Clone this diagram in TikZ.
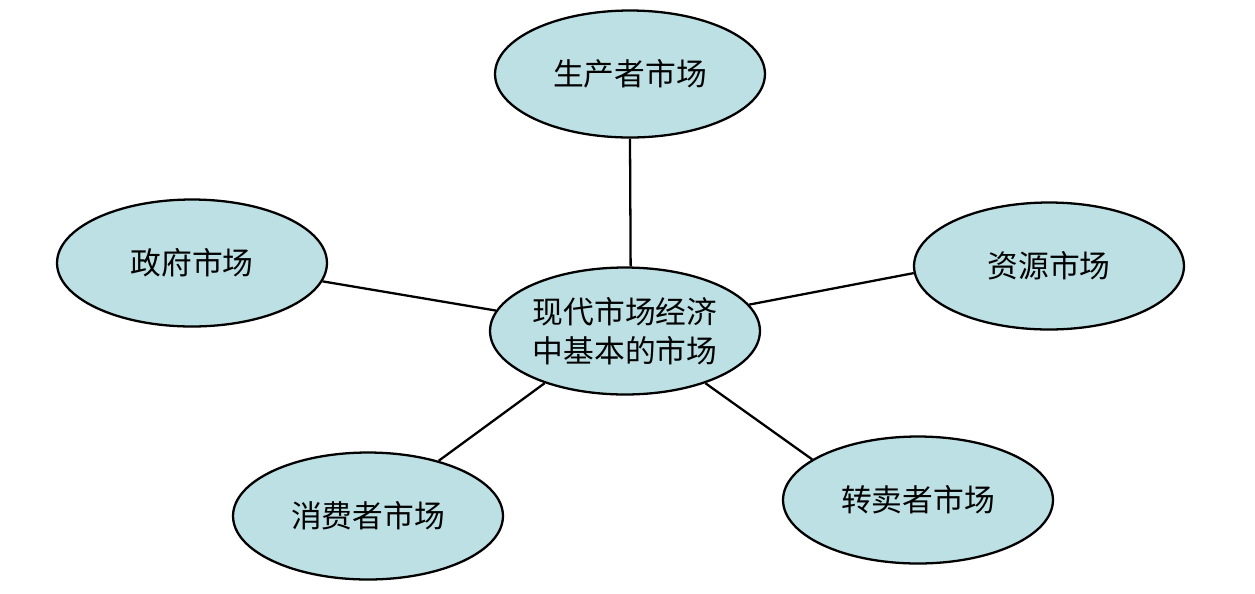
\documentclass[tikz,border=0pt]{standalone}
\usepackage{fontspec}
\setmainfont{Noto Sans CJK SC}
\usetikzlibrary{shapes.geometric}
\definecolor{mktblue}{HTML}{BCE0E3}

\begin{document}
\begin{tikzpicture}[x=0.02cm,y=-0.02cm,every node/.style={ellipse,draw,line width=1.3pt,fill=mktblue,minimum width=5.4cm,minimum height=2.54cm,inner sep=0pt,font=\fontsize{17.5}{22}\selectfont,align=center},line width=1.3pt
]
\useasboundingbox (0,0) rectangle (1255,593);
\node (nM) at (625,331) {现代市场经济\\中基本的市场};
\node (nP) at (630,74) {生产者市场};
\node (nG) at (192,263) {政府市场};
\node (nR) at (1049,266) {资源市场};
\node (nC) at (368,516) {消费者市场};
\node (nS) at (918,500) {转卖者市场};

\draw (nP.-90) -- (nM.85.5);
\draw (nG.-8.7) -- (nM.171.5);
\draw (nR.183.9) -- (nM.12.8);
\draw (nC.38) -- (nM.213.4);
\draw (nS.159.8) -- (nM.-33);
\end{tikzpicture}
\end{document}
